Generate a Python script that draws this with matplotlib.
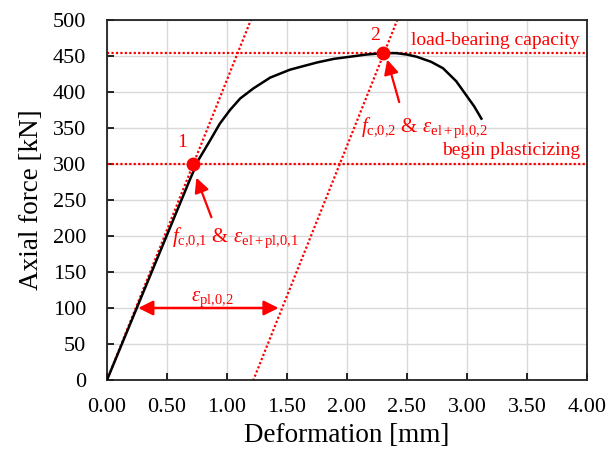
import numpy as np
import matplotlib
matplotlib.use("Agg")
import matplotlib.pyplot as plt
import matplotlib as mpl

mpl.rcParams['font.family'] = ['Liberation Serif', 'DejaVu Serif']
mpl.rcParams['mathtext.fontset'] = 'custom'
mpl.rcParams['mathtext.rm'] = 'Liberation Serif'
mpl.rcParams['mathtext.it'] = 'Liberation Serif:italic'

# Load-deformation curve
deform = [0.0, 0.69, 0.76, 0.86, 0.94, 1.025, 1.11, 1.22, 1.36, 1.525, 1.75, 1.89,
          2.16, 2.30, 2.41, 2.50, 2.58, 2.70, 2.80, 2.91, 3.00, 3.06, 3.12]
force = [0, 278, 305, 333, 356, 375, 391, 405, 420, 431, 441, 446,
         452, 454, 454, 452, 449, 442, 433, 415, 394, 380, 363]

# Key points
pt_defo = [0.72, 2.30]
pt_force = [300, 454]
pt_names = ["1", "2"]

stiffness = 417.0      # kN/mm, slope of elastic line
offset_pl = 1.22       # mm, offset of parallel line
levels = [300, 454]    # begin plasticizing, load-bearing capacity

red = "#ff0000"
dots = (0, (1, 1))

fig = plt.figure(figsize=(6.07, 4.54), dpi=100)
ax = fig.add_axes([107/607, 1 - 380/454, 480/607, 360/454])

ax.set_xlim(0, 4)
ax.set_ylim(0, 500)
ax.set_xticks(np.arange(0, 4.01, 0.5))
ax.set_yticks(np.arange(0, 501, 50))
ax.set_xticklabels([f"{v:.2f}" for v in np.arange(0, 4.01, 0.5)])
ax.grid(True, color="#d9d9d9", linewidth=1.0)
ax.set_axisbelow(True)
ax.tick_params(direction="in", length=5, width=1.2, labelsize=16, colors="black")
ax.tick_params(axis="x", pad=13)
ax.tick_params(axis="y", pad=15)
for s in ax.spines.values():
    s.set_linewidth(1.3)
    s.set_color("#222222")

# Reference lines
for lv in levels:
    ax.axhline(lv, color=red, linestyle=dots, linewidth=1.6, zorder=2)
xs = np.array([0, 4])
ax.plot(xs, stiffness * xs, color=red, linestyle=dots, linewidth=1.6, zorder=2)
ax.plot(xs, stiffness * (xs - offset_pl), color=red, linestyle=dots, linewidth=1.6, zorder=2)

# Measured curve
ax.plot(deform, force, color="black", linewidth=1.8, zorder=3)

# Points
ax.plot(pt_defo, pt_force, "o", color=red, markersize=9, zorder=4)
ax.text(0.63, 318, pt_names[0], color=red, fontsize=14, ha="center", va="bottom")
ax.text(2.23, 466, pt_names[1], color=red, fontsize=14, ha="center", va="bottom")

# Arrows to points
ax.annotate("", xy=(0.745, 281), xytext=(0.87, 226),
            arrowprops=dict(arrowstyle="-|>", color=red, lw=1.6, mutation_scale=22,
                            shrinkA=0, shrinkB=0))
ax.annotate("", xy=(2.335, 445), xytext=(2.435, 386),
            arrowprops=dict(arrowstyle="-|>", color=red, lw=1.6, mutation_scale=22,
                            shrinkA=0, shrinkB=0))

ax.text(0.54, 191, r"$f_{\mathrm{c{,}0{,}1}}$ & $\varepsilon_{\mathrm{el+pl{,}0{,}1}}$",
        color=red, fontsize=15, ha="left", va="baseline")
ax.text(2.12, 345, r"$f_{\mathrm{c{,}0{,}2}}$ & $\varepsilon_{\mathrm{el+pl{,}0{,}2}}$",
        color=red, fontsize=15, ha="left", va="baseline")

ax.text(3.94, 465, "load-bearing capacity", color=red, fontsize=14, ha="right", va="baseline")
ax.text(3.94, 312, "begin plasticizing", color=red, fontsize=14, ha="right", va="baseline")

# Plastic deformation arrow
ax.annotate("", xy=(0.26, 100), xytext=(1.43, 100),
            arrowprops=dict(arrowstyle="<|-|>", color=red, lw=1.8, mutation_scale=22,
                            shrinkA=0, shrinkB=0))
ax.text(0.88, 110, r"$\varepsilon_{\mathrm{pl{,}0{,}2}}$", color=red, fontsize=15,
        ha="center", va="baseline")

ax.set_xlabel("Deformation [mm]", fontsize=19.5, labelpad=4)
ax.set_ylabel("Axial force [kN]", fontsize=19.5, labelpad=6)

fig.savefig("out.png", dpi=100)
